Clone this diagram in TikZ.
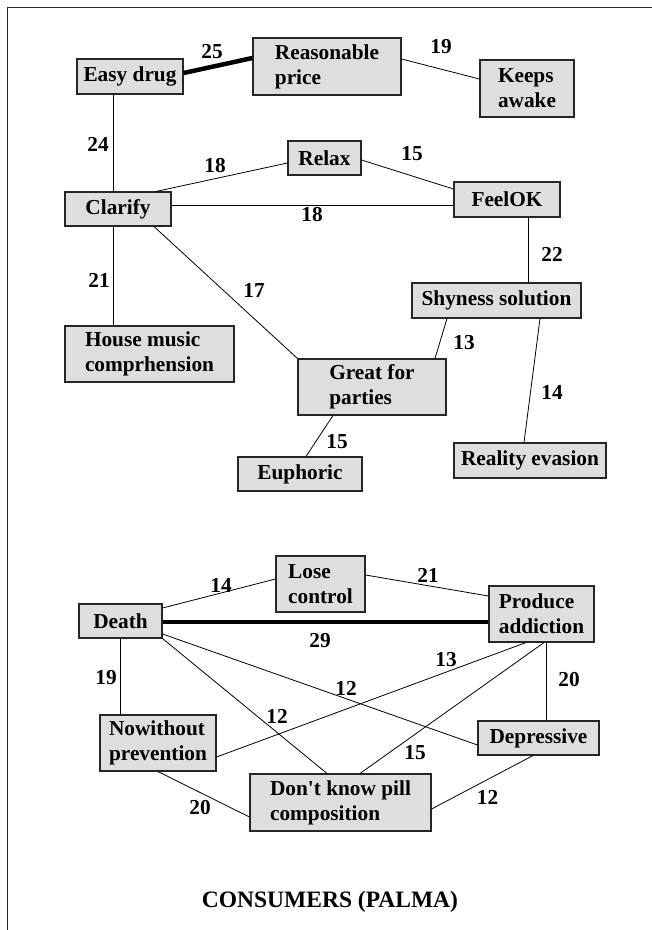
\documentclass[tikz,border=0pt]{standalone}
\usepackage{fontspec}
\setmainfont{Liberation Serif}
\usetikzlibrary{calc}
\definecolor{boxgray}{RGB}{222,222,222}
\newcommand\lblfont{\fontsize{21.3}{25}\selectfont\bfseries}
\newcommand\ttlfont{\fontsize{23.5}{27}\selectfont\bfseries}
\tikzset{
  box/.style={draw=black!85, line width=1.1pt, fill=boxgray, inner sep=0pt,
              align=left, font=\lblfont},
  num/.style={font=\lblfont, inner sep=0pt},
  link/.style={line width=0.8pt},
  heavy/.style={line width=4.5pt},
}
\begin{document}
\begin{tikzpicture}[x=1pt,y=-1pt]
\useasboundingbox (0,0) rectangle (652,930);
\fill[white] (0,0) rectangle (652,930);
% outer frame (top and left edges only)
\draw[line width=1.5pt, black!85] (652,7.5) -- (7.5,7.5) -- (7.5,930);

% ---------- upper graph ----------
\node[box, minimum width=106pt, minimum height=35pt] (easy)    at (130,76.5)  {Easy drug};
\node[box, minimum width=148pt, minimum height=57pt] (price)   at (327,66.5)  {Reasonable\\price};
\node[box, minimum width=94pt,  minimum height=57pt] (awake)   at (527,88.5)  {Keeps\\awake};
\node[box, minimum width=73pt,  minimum height=34pt] (relax)   at (324.5,158) {Relax};
\node[box, minimum width=106pt, minimum height=35pt] (feelok)  at (507,199.5) {FeelOK};
\node[box, minimum width=106pt, minimum height=34pt] (clarify) at (118,209)   {Clarify};
\node[box, minimum width=169pt, minimum height=56pt] (house)   at (149.5,354) {House music\\comprhension};
\node[box, minimum width=169pt, minimum height=35pt] (shy)     at (496.5,300.5) {Shyness solution};
\node[box, minimum width=148pt, minimum height=56pt] (great)   at (372,387)   {Great for\\parties};
\node[box, minimum width=152pt, minimum height=35pt] (reality) at (530,460.5) {Reality evasion};
\node[box, minimum width=124pt, minimum height=34pt] (euph)    at (300,474)   {Euphoric};

\draw[heavy] ([yshift=3.5pt]easy.east) -- ([yshift=8.5pt]price.west);
\draw[link] ([yshift=7.5pt]price.east) -- ([yshift=9.5pt]awake.west);
\draw[link] ([xshift=-17pt]easy.south) -- ([xshift=-17pt]easy.south |- clarify.north);
\draw[link] ([xshift=38pt]clarify.north) -- ([yshift=-5pt]relax.west);
\draw[link] ([yshift=-2pt]relax.east) -- ([yshift=10.5pt]feelok.west);
\draw[link] ([yshift=4pt]clarify.east) -- ([yshift=4pt]clarify.east -| feelok.west);
\draw[link] ([xshift=21pt]feelok.south) -- ([xshift=21pt]feelok.south |- shy.north);
\draw[link] ([xshift=36pt]clarify.south) -- (great.north west);
\draw[link] ([xshift=-5pt]clarify.south) -- ([xshift=-5pt]clarify.south |- house.north);
\draw[link] ([xshift=-49.5pt]shy.south) -- ([xshift=63pt]great.north);
\draw[link] ([xshift=43.5pt]shy.south) -- ([xshift=-6pt]reality.north);
\draw[link] ([xshift=-39pt]great.south) -- ([xshift=6pt]euph.north);

\node[num] (w25) at (212,52)  {25};
\node[num] (w19) at (441,47)  {19};
\node[num] (w24) at (98,144)  {24};
\node[num] (w18a) at (215,166) {18};
\node[num] (w15a) at (412,154) {15};
\node[num] (w18b) at (312,215) {18};
\node[num] (w17) at (254,290) {17};
\node[num] (w21a) at (99,280) {21};
\node[num] (w22) at (552,254) {22};
\node[num] (w13a) at (464,343) {13};
\node[num] (w14a) at (552,392) {14};
\node[num] (w15b) at (337,442) {15};

% ---------- lower graph ----------
\node[box, minimum width=89pt,  minimum height=56pt] (lose)   at (320.5,584) {Lose\\control};
\node[box, minimum width=105pt, minimum height=56pt] (prod)   at (541.5,614) {Produce\\addiction};
\node[box, minimum width=83pt,  minimum height=34pt] (death)  at (120.5,621) {Death};
\node[box, minimum width=116pt, minimum height=56pt] (nowith) at (158,743)   {Nowithout\\prevention};
\node[box, minimum width=121pt, minimum height=34pt] (depr)   at (538.5,738) {Depressive};
\node[box, minimum width=181pt, minimum height=57pt] (dont)   at (340.5,802.5) {Don\textquotesingle t know pill\\composition};

\draw[link] ([yshift=13pt]death.east) -- ([yshift=5pt]lose.west);
\draw[link] ([yshift=9pt]lose.east) -- ([yshift=18pt]prod.west);
\draw[heavy] ([yshift=-1pt]death.east) -- ([yshift=-1pt]death.east -| prod.west);
\draw[link] (death.south) -- (death.south |- nowith.north);
\draw[link] ([yshift=-13pt]death.east) -- ([yshift=-7pt]depr.west);
\draw[link] (death.south east) -- ([xshift=-13.5pt]dont.north);
\draw[link] ([xshift=-15.5pt]prod.south) -- ([yshift=-14pt]nowith.east);
\draw[link] ([xshift=2.5pt]prod.south) -- ([xshift=19.5pt]dont.north);
\draw[link] ([xshift=4.5pt]prod.south) -- ([xshift=4.5pt]prod.south |- depr.north);
\draw[link] (nowith.south) -- ([yshift=-14.5pt]dont.west);
\draw[link] ([xshift=-5.5pt]depr.south) -- ([yshift=-6.5pt]dont.east);

\node[num] (v14) at (221,585) {14};
\node[num] (v21) at (428,575) {21};
\node[num] (v29) at (320,641) {29};
\node[num] (v19) at (106,678) {19};
\node[num] (v12a) at (346,688) {12};
\node[num] (v12b) at (277,716) {12};
\node[num] (v13) at (446,660) {13};
\node[num] (v15) at (415,753) {15};
\node[num] (v20a) at (569,680) {20};
\node[num] (v20b) at (200,808) {20};
\node[num] (v12c) at (487.5,797) {12};

\node[font=\ttlfont, inner sep=0pt, anchor=base] (title) at (330,907) {CONSUMERS (PALMA)};
\end{tikzpicture}
\end{document}
